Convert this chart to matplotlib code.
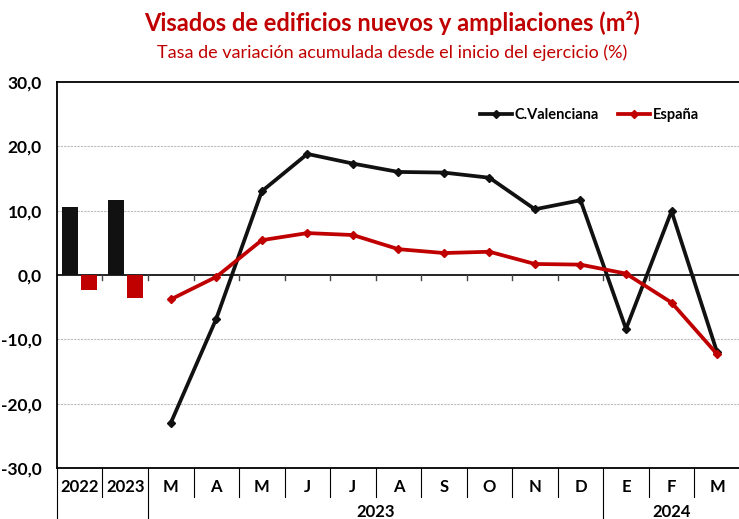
import numpy as np
import matplotlib.pyplot as plt

plt.rcParams['font.family'] = ['Lato', 'DejaVu Sans']

# datos
annual_labels = ['2022', '2023']
annual_cv = [10.6, 11.6]
annual_es = [-2.3, -3.6]

month_labels = ['M', 'A', 'M', 'J', 'J', 'A', 'S', 'O', 'N', 'D', 'E', 'F', 'M']
month_cv = [-23.0, -6.8, 13.0, 18.8, 17.3, 16.0, 15.9, 15.1, 10.2, 11.6, -8.4, 9.9, -12.0]
month_es = [-3.8, -0.3, 5.4, 6.5, 6.2, 4.0, 3.4, 3.6, 1.7, 1.6, 0.2, -4.3, -12.3]

year_groups = [('2023', 2, 11), ('2024', 12, 14)]

black = '#111111'
red = '#C00000'

fig = plt.figure(figsize=(7.39, 5.19), dpi=100)
ax = fig.add_axes([0.0771, 0.0983, 0.924, 0.744])

n_ann = len(annual_labels)
x_ann = np.arange(n_ann)
x_mon = np.arange(n_ann, n_ann + len(month_labels))

w = 0.35
ax.bar(x_ann - 0.21, annual_cv, width=w, color=black, zorder=3)
ax.bar(x_ann + 0.21, annual_es, width=w, color=red, zorder=3)

ax.plot(x_mon, month_cv, color=black, lw=2.7, marker='D', ms=4, label='C.Valenciana', zorder=4)
ax.plot(x_mon, month_es, color=red, lw=2.7, marker='D', ms=4, label='España', zorder=4)

ax.set_xlim(-0.5, len(x_ann) + len(x_mon) - 0.5)
ax.set_ylim(-30, 30)
ax.set_yticks(np.arange(-30, 31, 10))
ax.set_yticklabels([f'{v:.1f}'.replace('.', ',') for v in np.arange(-30, 31, 10)],
                   fontsize=12.5, fontweight='bold')
ax.tick_params(axis='y', length=0, pad=11)
ax.set_xticks([])

for v in [-20, -10, 10, 20]:
    ax.axhline(v, color='#bbbbbb', lw=0.8, ls=(0, (2, 1)), zorder=1)
ax.axhline(0, color='black', lw=1.2, zorder=2)

for s in ax.spines.values():
    s.set_color('black')
    s.set_linewidth(1.3)
ax.spines['right'].set_visible(False)

# marcas en el eje cero
for b in np.arange(0.5, len(x_ann) + len(x_mon) - 1, 1):
    ax.plot([b, b], [0, -0.8], color='#444444', lw=1, zorder=2)

# etiquetas inferiores
tr = ax.get_xaxis_transform()
all_labels = annual_labels + month_labels
for i, lab in enumerate(all_labels):
    ax.text(i, -0.049, lab, transform=tr, ha='center', va='center',
            fontsize=12, fontweight='bold')
for b in np.arange(-0.5, len(all_labels), 1):
    full = b in (-0.5, 1.5, 11.5)
    ax.plot([b, b], [0, -0.14 if full else -0.075], transform=tr,
            color='black', lw=0.8, clip_on=False)
for lab, a, bb in year_groups:
    ax.text((a + bb) / 2, -0.114, lab, transform=tr, ha='center', va='center',
            fontsize=12, fontweight='bold')

ax.legend(loc='center left', bbox_to_anchor=(0.6, 0.915), ncol=2, frameon=False,
          prop={'weight': 'bold', 'size': 10.5}, handlelength=2.2, handletextpad=0.2,
          columnspacing=1.3)

fig.text(0.53, 0.955, 'Visados de edificios nuevos y ampliaciones (m²)', ha='center',
         va='center', fontsize=17, fontweight='bold', color=red)
fig.text(0.53, 0.898, 'Tasa de variación acumulada desde el inicio del ejercicio (%)',
         ha='center', va='center', fontsize=13, color=red)

fig.savefig('out.png', dpi=100)
